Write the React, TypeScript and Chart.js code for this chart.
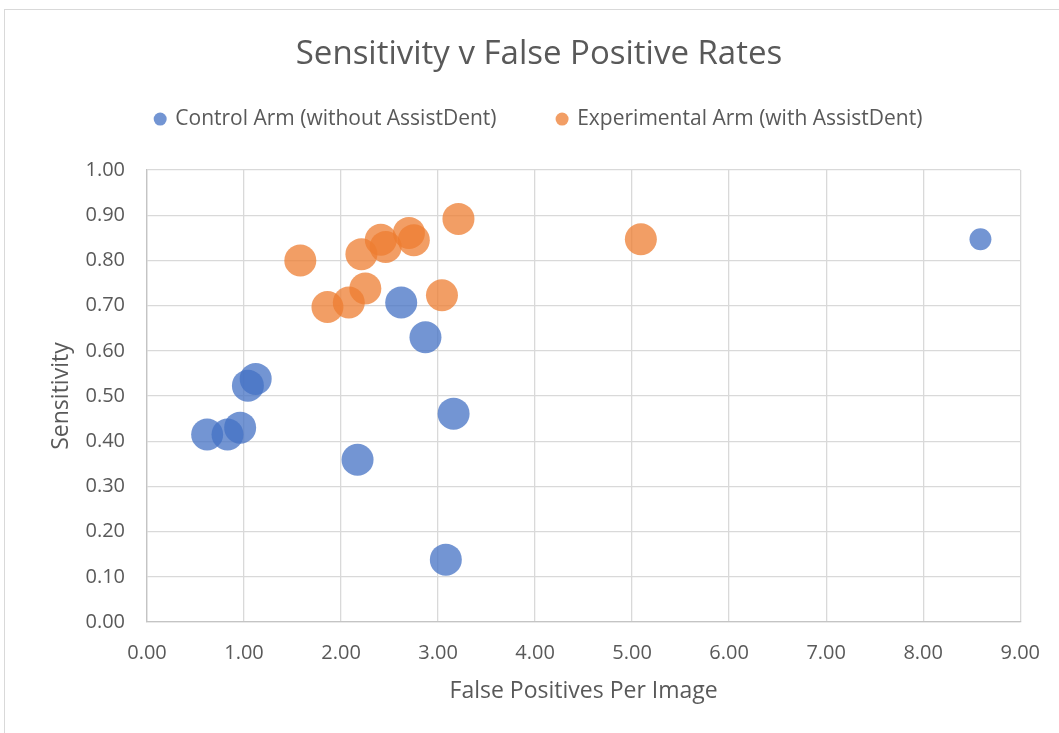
import React, { useEffect, useRef } from "react";
import { Chart, registerables } from "chart.js";

Chart.register(...registerables);

// Control Arm (without AssistDent)
const controlFP = [2.62, 2.87, 1.12, 1.04, 0.62, 0.83, 0.96, 3.16, 2.17, 3.08, 8.59];
const controlSens = [0.707, 0.63, 0.538, 0.523, 0.415, 0.415, 0.43, 0.461, 0.359, 0.138, 0.847];
const controlSize = [100, 100, 100, 100, 100, 100, 100, 100, 100, 100, 47];

// Experimental Arm (with AssistDent)
const expFP = [1.58, 1.86, 2.08, 2.25, 2.21, 2.41, 2.46, 2.7, 2.75, 3.21, 3.04, 5.09];
const expSens = [0.8, 0.697, 0.707, 0.738, 0.814, 0.846, 0.83, 0.861, 0.845, 0.892, 0.723, 0.847];
const expSize = [100, 100, 100, 100, 100, 100, 100, 100, 100, 100, 100, 100];

const seriesNames = ["Control Arm (without AssistDent)", "Experimental Arm (with AssistDent)"];
const chartTitle = "Sensitivity v False Positive Rates";
const xTitle = "False Positives Per Image";
const yTitle = "Sensitivity";

const FONT = "'Open Sans', sans-serif";
const TEXT = "#595959";
const GRID = "#d9d9d9";
const MAX_R = 16;

function toPoints(xs: number[], ys: number[], ss: number[]) {
  return xs.map((x, i) => ({ x, y: ys[i], r: MAX_R * Math.sqrt(ss[i] / 100) }));
}

export default function App() {
  const ref = useRef<HTMLCanvasElement | null>(null);

  useEffect(() => {
    if (!ref.current) return;
    const chart = new Chart(ref.current, {
      type: "bubble",
      data: {
        datasets: [
          {
            label: seriesNames[0],
            data: toPoints(controlFP, controlSens, controlSize),
            backgroundColor: "rgba(68,114,196,0.75)",
            borderWidth: 0,
          },
          {
            label: seriesNames[1],
            data: toPoints(expFP, expSens, expSize),
            backgroundColor: "rgba(237,125,49,0.75)",
            borderWidth: 0,
          },
        ],
      },
      options: {
        responsive: false,
        animation: false,
        events: [],
        layout: { padding: { top: 0, left: 57, right: 38, bottom: 0 } },
        plugins: {
          tooltip: { enabled: false },
          title: {
            display: true,
            text: chartTitle,
            color: TEXT,
            font: { family: FONT, size: 33, weight: "normal" },
            padding: { top: 35, bottom: -27 },
          },
          legend: {
            display: true,
            labels: {
              color: TEXT,
              font: { family: FONT, size: 21 },
              usePointStyle: true,
              pointStyle: "circle",
              boxWidth: 9.2,
              boxHeight: 9.2,
              padding: 61,
            },
          },
        },
        scales: {
          x: {
            type: "linear",
            min: 0,
            max: 9,
            afterFit: (s: any) => {
              s.height = 111;
            },
            ticks: {
              stepSize: 1,
              color: TEXT,
              font: { family: FONT, size: 20 },
              padding: 19,
              callback: (v: any) => Number(v).toFixed(2),
            },
            grid: { color: GRID, lineWidth: 1.3, drawTicks: false },
            border: { color: "#c4c4c4", width: 1.3 },
            title: {
              display: true,
              text: xTitle,
              color: TEXT,
              font: { family: FONT, size: 23 },
              padding: { top: 0, bottom: 28 },
            },
          },
          x2: {
            type: "linear",
            position: "top",
            display: true,
            min: 0,
            max: 1,
            afterFit: (s: any) => {
              s.height = 30.5;
            },
            ticks: { display: false },
            grid: { display: false, drawTicks: false },
            border: { display: false },
          },
          y: {
            type: "linear",
            min: 0,
            max: 1,
            afterFit: (s: any) => {
              s.width = 90;
            },
            ticks: {
              stepSize: 0.1,
              color: TEXT,
              font: { family: FONT, size: 20 },
              padding: 22,
              callback: (v: any) => Number(v).toFixed(2),
            },
            grid: { color: GRID, lineWidth: 1.3, drawTicks: false },
            border: { color: "#c4c4c4", width: 1.3 },
            title: {
              display: true,
              text: yTitle,
              color: TEXT,
              font: { family: FONT, size: 23 },
              padding: { top: -9, bottom: 0 },
            },
          },
        },
      },
    });
    return () => chart.destroy();
  }, []);

  return (
    <div style={{ position: "fixed", left: 0, top: 0, width: 1059, height: 733, background: "#fff", overflow: "hidden" }}>
      <div
        style={{
          position: "absolute",
          left: 4,
          top: 9,
          width: 1200,
          height: 900,
          border: "1px solid #d9d9d9",
        }}
      />
      <canvas ref={ref} width={1059} height={733} style={{ position: "absolute", left: 0, top: 0 }} />
    </div>
  );
}
